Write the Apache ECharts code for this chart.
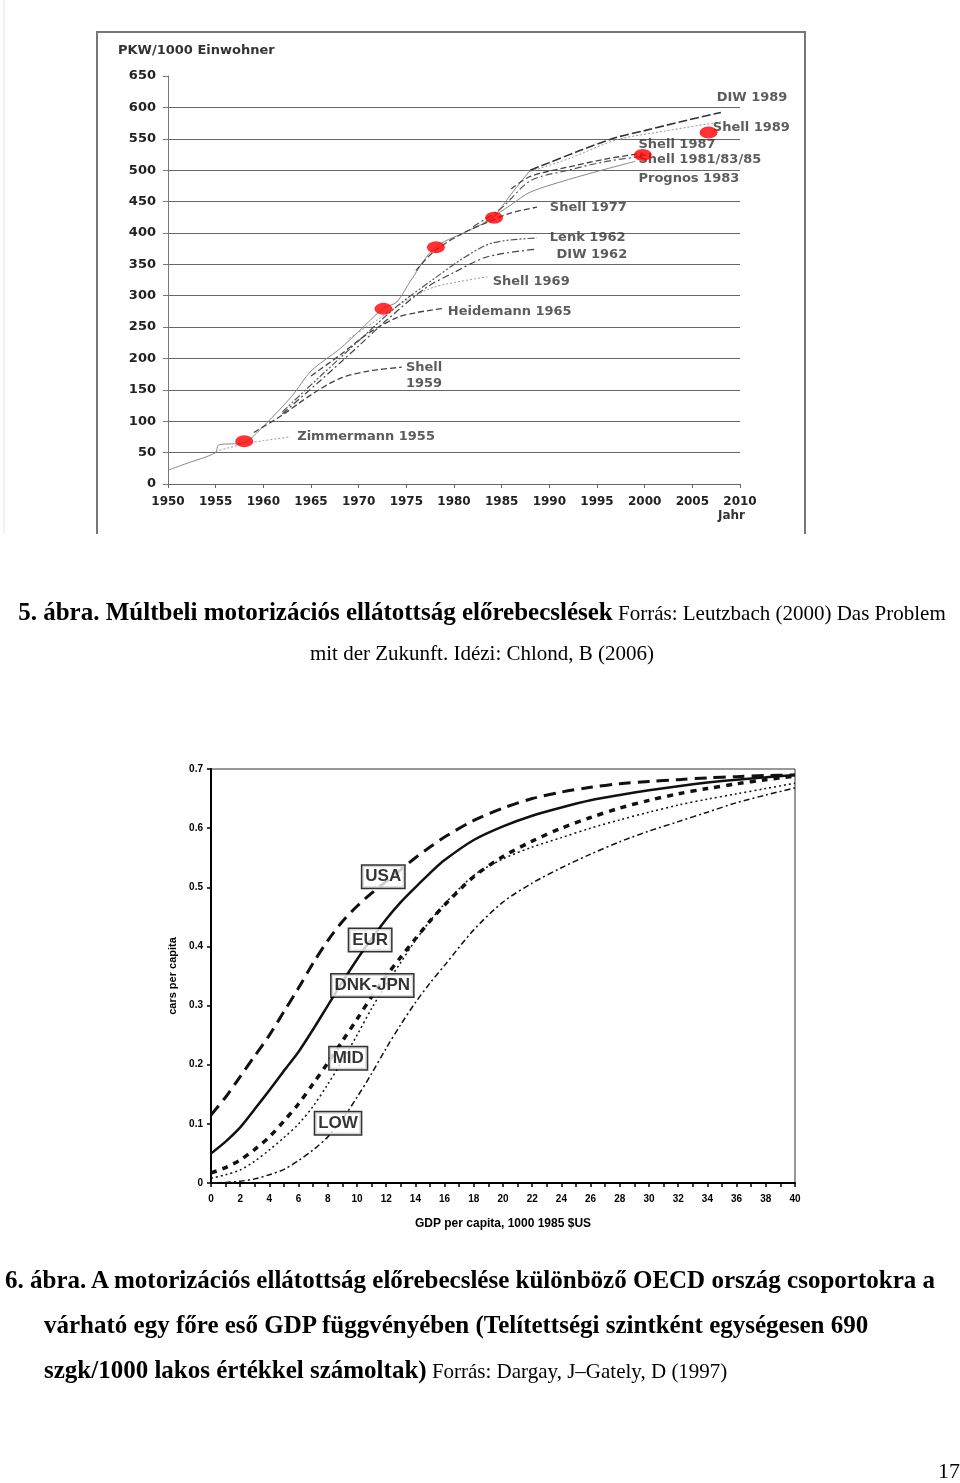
<!DOCTYPE html>
<html>
<head>
<meta charset="utf-8">
<script src="https://cdn.jsdelivr.net/npm/echarts@6/dist/echarts.min.js"></script>
<style>
html, body { margin: 0; padding: 0; background: #fff; }
#page { position: relative; width: 960px; height: 1483px; overflow: hidden; }
#chart { position: absolute; left: 0; top: 0; width: 960px; height: 1483px; }
.cap { position: absolute; font-family: "Liberation Serif", serif; color: #000; white-space: nowrap; }
.cap b { font-weight: bold; }
#cap1 { left: 0; top: 592px; width: 964px; text-align: center; line-height: 40px; font-size: 21px; }
#cap1 b { font-size: 25px; }
#cap2 { left: 5px; top: 1258px; line-height: 44px; font-size: 21px; }
#cap2 b { font-size: 25px; }
#cap2 .ind { padding-left: 39px; }
#pageno { right: 0; top: 1458px; font-size: 22px; }
</style>
</head>
<body>
<div id="page">
  <div id="chart"></div>
  <div class="cap" id="cap1"><b>5. ábra. Múltbeli motorizációs ellátottság előrebecslések</b> Forrás: Leutzbach (2000) Das Problem<br>mit der Zukunft. Idézi: Chlond, B (2006)</div>
  <div class="cap" id="cap2"><b>6. ábra. A motorizációs ellátottság előrebecslése különböző OECD ország csoportokra a</b><br><span class="ind"><b>várható egy főre eső GDP függvényében (Telítettségi szintként egységesen 690</b></span><br><span class="ind"><b>szgk/1000 lakos értékkel számoltak)</b> Forrás: Dargay, J–Gately, D (1997)</span></div>
  <div class="cap" id="pageno">17</div>
</div>

<script>
// ---- 5. ábra: PKW/1000 Einwohner, [Jahr, Wert]
const history = [[1950,22],[1952,33],[1955,50],[1955.3,62],[1958,66],[1960,92],[1963,140],[1965,180],[1968,215],[1970,243],[1972.6,280],[1974,290],[1975.5,325],[1978,377],[1981,400],[1984,424],[1986,462],[1988,500]]
const zimmermann1955 = [[1955,52],[1958,64],[1960,69],[1962.8,75]]
const shell1959 = [[1959,82],[1962,110],[1965,142],[1968,168],[1971,180],[1974.5,186]]
const heidemann1965 = [[1965,172],[1968,205],[1971,240],[1974,265],[1976,273],[1979,280]]
const shell1969 = [[1969,232],[1972,262],[1975,292],[1978,314],[1983.5,330]]
const diw1962 = [[1962,112],[1966,165],[1970,220],[1973,262],[1977,312],[1980,337],[1983.5,362],[1988.5,374]]
const lenk1962 = [[1962,115],[1966,172],[1970,228],[1974,283],[1978,328],[1981,360],[1984,384],[1988.7,392]]
const shell1977 = [[1976,340],[1978,372],[1981,400],[1984,420],[1986,432],[1988.7,441]]
const shell1981 = [[1982,410],[1985,440],[1988,483],[1992,500],[1996,514],[1999.8,522]]
const prognos1983 = [[1983,415],[1986,445],[1988,465],[1992,485],[1996,502],[1999,514]]
const shell1987 = [[1986,470],[1988,490],[1992,505],[1996,518],[1999.8,527]]
const shell1989 = [[1988,498],[1992,518],[1997,548],[2002,562],[2008,577]]
const diw1989 = [[1988,500],[1990,512],[1993,530],[1997,552],[2000,563],[2004,578],[2008,592]]
const redDots = [[1958,68],[1972.6,279],[1978.1,377],[1984.2,424],[1999.8,524],[2006.7,560]]
const topLabels = [
  [2007.5,615,'DIW 1989'],[2007.1,567,'Shell 1989'],[1999.3,540,'Shell 1987'],
  [1999.3,516,'Shell 1981/83/85'],[1999.3,487,'Prognos 1983'],[1990,440,'Shell 1977'],
  [1990,392,'Lenk 1962'],[1990.7,365,'DIW 1962'],[1984,323,'Shell 1969'],
  [1979.3,274,'Heidemann 1965'],[1974.9,172,'Shell\n1959'],[1963.5,75,'Zimmermann 1955']
]

// ---- 6. ábra: cars per capita vs GDP per capita (1000 1985 $US)
const gdp = [0,1,2,3,4,5,6,7,8,9,10,11,12,13,14,15,16,18,20,22,24,26,28,30,32,34,36,38,40]
const usa = [0.115,0.145,0.18,0.215,0.25,0.29,0.33,0.372,0.41,0.442,0.468,0.49,0.51,0.53,0.55,0.568,0.585,0.613,0.634,0.65,0.661,0.669,0.675,0.679,0.682,0.685,0.687,0.689,0.69]
const eur = [0.05,0.07,0.094,0.125,0.157,0.19,0.222,0.26,0.3,0.34,0.378,0.413,0.446,0.475,0.5,0.524,0.546,0.58,0.603,0.621,0.635,0.647,0.656,0.664,0.671,0.677,0.682,0.686,0.69]
const mid = [0.017,0.026,0.039,0.057,0.078,0.105,0.134,0.168,0.203,0.24,0.277,0.315,0.35,0.382,0.413,0.443,0.47,0.518,0.552,0.578,0.6,0.618,0.634,0.647,0.658,0.667,0.675,0.682,0.688]
const dnkJpn = [0.008,0.014,0.022,0.037,0.056,0.077,0.1,0.13,0.167,0.207,0.25,0.295,0.336,0.373,0.41,0.443,0.472,0.52,0.548,0.568,0.584,0.6,0.614,0.627,0.639,0.649,0.658,0.667,0.676]
const low = [0,0.001,0.003,0.007,0.014,0.023,0.038,0.056,0.078,0.108,0.145,0.185,0.228,0.268,0.305,0.338,0.368,0.428,0.475,0.507,0.533,0.556,0.577,0.595,0.611,0.627,0.643,0.656,0.668]
const boxLabels = [[11.8,0.518,'USA'],[10.9,0.411,'EUR'],[11.05,0.334,'DNK-JPN'],[9.4,0.211,'MID'],[8.7,0.101,'LOW']]

const sans = 'DejaVu Sans'
const arial = 'Liberation Sans'

function topLine(name, data, color, width, type){
  return {
    name, type:'line', xAxisIndex:0, yAxisIndex:0, data,
    symbol:'none', smooth:0.3, silent:true,
    lineStyle:{color, width, type}
  }
}
function curve(name, ys, width, type){
  return {
    name, type:'line', xAxisIndex:1, yAxisIndex:1,
    data: gdp.map((g,i)=>[g, ys[i]]),
    symbol:'none', smooth:0.3, silent:true,
    lineStyle:{color:'#111', width, type}
  }
}

const chart = echarts.init(document.getElementById('chart'), null, {renderer:'canvas'})

const options = {
  animation:false,
  backgroundColor:'#fff',
  grid:[
    {left:168, top:76, width:572, height:408},
    {left:211, top:769, width:584, height:414, show:true, borderColor:'#333', borderWidth:1}
  ],
  xAxis:[
    {
      gridIndex:0, type:'value', min:1950, max:2010, interval:5,
      axisLine:{show:true, lineStyle:{color:'#666', width:1}},
      axisTick:{show:true, length:4, lineStyle:{color:'#666'}},
      axisLabel:{formatter:v=>String(v), fontFamily:sans, fontWeight:'bold', fontSize:12, color:'#222', margin:12},
      splitLine:{show:false}
    },
    {
      gridIndex:1, type:'value', min:0, max:40, interval:1,
      axisLine:{show:true, lineStyle:{color:'#000', width:2}},
      axisTick:{show:true, length:4, lineStyle:{color:'#000', width:1.5}},
      axisLabel:{formatter:v=>v%2===0?String(v):'', fontFamily:arial, fontWeight:'bold', fontSize:10, color:'#000', margin:11},
      splitLine:{show:false},
      name:'GDP per capita, 1000 1985 $US', nameLocation:'middle', nameGap:35,
      nameTextStyle:{fontFamily:arial, fontWeight:'bold', fontSize:12, color:'#000'}
    },
    {
      gridIndex:1, type:'value', min:0, max:40, interval:1,
      axisLine:{show:false}, axisLabel:{show:false}, splitLine:{show:false},
      axisTick:{show:true, inside:true, length:4, lineStyle:{color:'#000', width:1.5}}
    }
  ],
  yAxis:[
    {
      gridIndex:0, type:'value', min:0, max:650, interval:50,
      axisLine:{show:true, lineStyle:{color:'#777', width:1}},
      axisTick:{show:true, length:5, lineStyle:{color:'#777'}},
      axisLabel:{fontFamily:sans, fontWeight:'bold', fontSize:13, color:'#222', margin:12},
      splitLine:{show:true, showMinLine:false, showMaxLine:false, lineStyle:{color:'#666', width:1}}
    },
    {
      gridIndex:1, type:'value', min:0, max:0.7, interval:0.1,
      axisLine:{show:true, lineStyle:{color:'#000', width:2}},
      axisTick:{show:true, length:4, lineStyle:{color:'#000', width:1.5}},
      axisLabel:{formatter:v=>v===0?'0':v.toFixed(1), fontFamily:arial, fontWeight:'bold', fontSize:10, color:'#000', margin:8},
      splitLine:{show:false},
      name:'cars per capita', nameLocation:'middle', nameGap:32, nameRotate:90,
      nameTextStyle:{fontFamily:arial, fontWeight:'bold', fontSize:11, color:'#000'}
    },
    {
      gridIndex:1, type:'value', min:0, max:0.7, interval:0.1,
      axisLine:{show:false}, axisLabel:{show:false}, splitLine:{show:false},
      axisTick:{show:true, inside:true, length:4, lineStyle:{color:'#000', width:1.5}}
    }
  ],
  graphic:[
    {type:'polyline', shape:{points:[[97,534],[97,32],[805,32],[805,534]]}, style:{stroke:'#777', lineWidth:2, fill:null}},
    {type:'line', shape:{x1:4, y1:0, x2:4, y2:533}, style:{stroke:'#dfe6f2', lineWidth:1}},
    {type:'text', left:118, top:44, style:{text:'PKW/1000 Einwohner', fontFamily:sans, fontWeight:'bold', fontSize:13, fill:'#333'}},
    {type:'text', left:718, top:510, style:{text:'Jahr', fontFamily:sans, fontWeight:'bold', fontSize:12, fill:'#333'}}
  ],
  series:[
    topLine('history', history, '#888', 1, 'solid'),
    topLine('Zimmermann 1955', zimmermann1955, '#999', 1, [2,2]),
    topLine('Shell 1959', shell1959, '#444', 1.3, [6,3]),
    topLine('Heidemann 1965', heidemann1965, '#444', 1.3, [6,3]),
    topLine('Shell 1969', shell1969, '#999', 1, [2,2]),
    topLine('DIW 1962', diw1962, '#444', 1.2, [7,3,2,3]),
    topLine('Lenk 1962', lenk1962, '#555', 1.2, [7,2,2,2,2,2]),
    topLine('Shell 1977', shell1977, '#444', 1.3, [6,3]),
    topLine('Shell 1981/83/85', shell1981, '#555', 1.2, [7,3,2,3]),
    topLine('Prognos 1983', prognos1983, '#888', 1, 'solid'),
    topLine('Shell 1987', shell1987, '#444', 1.3, [6,3]),
    topLine('Shell 1989', shell1989, '#999', 1, [2,2]),
    topLine('DIW 1989', diw1989, '#333', 1.6, [9,3]),
    {
      name:'labels', type:'scatter', xAxisIndex:0, yAxisIndex:0, data:topLabels,
      symbolSize:1, itemStyle:{color:'transparent'}, silent:true, z:5,
      label:{show:true, position:'right', distance:0, formatter:p=>p.data[2],
        fontFamily:sans, fontWeight:'bold', fontSize:13, color:'#333', lineHeight:16}
    },
    {
      name:'points', type:'scatter', xAxisIndex:0, yAxisIndex:0, data:redDots,
      symbol:'circle', symbolSize:[18,12], itemStyle:{color:'#ff0000'}, silent:true, z:10
    },
    curve('USA', usa, 3, [12,7]),
    curve('EUR', eur, 2.5, 'solid'),
    curve('MID', mid, 3.5, [6,6]),
    curve('DNK-JPN', dnkJpn, 1.5, [2,3]),
    curve('LOW', low, 1.5, [6,3,2,3]),
    {
      name:'groups', type:'scatter', xAxisIndex:1, yAxisIndex:1, data:boxLabels,
      symbolSize:1, itemStyle:{color:'transparent'}, silent:true, z:10,
      label:{show:true, position:'inside', formatter:p=>p.data[2],
        fontFamily:arial, fontWeight:'bold', fontSize:17, color:'#000',
        backgroundColor:'#fff', borderColor:'#000', borderWidth:1.5, padding:[3,3,2,3]}
    }
  ]
}

chart.setOption(options)
window.addEventListener('resize', ()=>chart.resize())
</script>
</body>
</html>
